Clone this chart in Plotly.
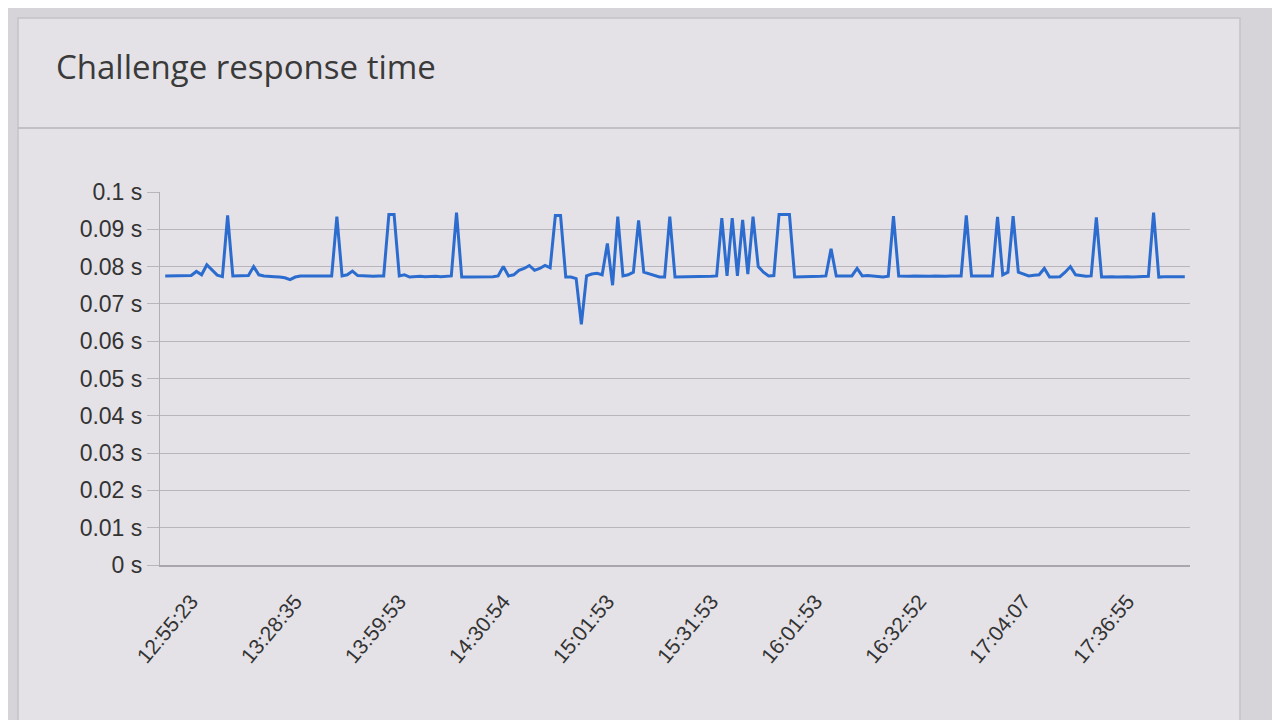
import plotly.graph_objects as go

# Response times (seconds), one value per sample
response_time = [
    0.0775, 0.0775, 0.0775, 0.0775, 0.0775, 0.0776, 0.0787, 0.0778, 0.0805, 0.0790,   # 0-9
    0.0777, 0.0773, 0.0937, 0.0775, 0.0775, 0.0775, 0.0776, 0.0800, 0.0778, 0.0775,   # 10-19
    0.0775, 0.0773, 0.0772, 0.0770, 0.0765, 0.0772, 0.0775, 0.0775, 0.0775, 0.0774,   # 20-29
    0.0775, 0.0775, 0.0775, 0.0934, 0.0775, 0.0778, 0.0788, 0.0776, 0.0775, 0.0775,   # 30-39
    0.0774, 0.0775, 0.0775, 0.0940, 0.0940, 0.0775, 0.0778, 0.0772, 0.0774, 0.0774,   # 40-49
    0.0773, 0.0774, 0.0774, 0.0773, 0.0774, 0.0775, 0.0945, 0.0772, 0.0772, 0.0772,   # 50-59
    0.0773, 0.0772, 0.0772, 0.0773, 0.0775, 0.0800, 0.0775, 0.0778, 0.0790, 0.0795,   # 60-69
    0.0803, 0.0790, 0.0795, 0.0803, 0.0797, 0.0937, 0.0937, 0.0772, 0.0772, 0.0768,   # 70-79
    0.0645, 0.0775, 0.0780, 0.0782, 0.0778, 0.0862, 0.0750, 0.0934, 0.0775, 0.0778,   # 80-89
    0.0785, 0.0924, 0.0785, 0.0780, 0.0775, 0.0772, 0.0772, 0.0934, 0.0772, 0.0772,   # 90-99
    0.0772, 0.0773, 0.0772, 0.0772, 0.0773, 0.0774, 0.0775, 0.0930, 0.0775, 0.0930,   # 100-109
    0.0775, 0.0925, 0.0780, 0.0934, 0.0800, 0.0785, 0.0775, 0.0776, 0.0940, 0.0940,   # 110-119
    0.0940, 0.0772, 0.0772, 0.0773, 0.0772, 0.0773, 0.0774, 0.0775, 0.0848, 0.0775,   # 120-129
    0.0775, 0.0774, 0.0775, 0.0795, 0.0775, 0.0776, 0.0775, 0.0773, 0.0772, 0.0774,   # 130-139
    0.0935, 0.0775, 0.0774, 0.0774, 0.0775, 0.0774, 0.0775, 0.0774, 0.0775, 0.0774,   # 140-149
    0.0774, 0.0775, 0.0775, 0.0775, 0.0937, 0.0775, 0.0775, 0.0775, 0.0774, 0.0775,   # 150-159
    0.0933, 0.0778, 0.0785, 0.0935, 0.0785, 0.0780, 0.0775, 0.0777, 0.0778, 0.0795,   # 160-169
    0.0772, 0.0772, 0.0773, 0.0785, 0.0800, 0.0778, 0.0775, 0.0774, 0.0775, 0.0932,   # 170-179
    0.0772, 0.0773, 0.0773, 0.0772, 0.0773, 0.0773, 0.0772, 0.0773, 0.0773, 0.0774,   # 180-189
    0.0945, 0.0772, 0.0773, 0.0773, 0.0772, 0.0773, 0.0773,                           # 190-196
]
sample_index = list(range(len(response_time)))

# X-axis tick labels and the samples they sit under
time_labels = ["12:55:23", "13:28:35", "13:59:53", "14:30:54", "15:01:53",
               "15:31:53", "16:01:53", "16:32:52", "17:04:07", "17:36:55"]
time_label_index = [5, 25, 45, 65, 85, 105, 125, 145, 165, 185]

# Y-axis ticks
y_tick_values = [0, 0.01, 0.02, 0.03, 0.04, 0.05, 0.06, 0.07, 0.08, 0.09, 0.1]
y_tick_labels = ["0 s", "0.01 s", "0.02 s", "0.03 s", "0.04 s", "0.05 s",
                 "0.06 s", "0.07 s", "0.08 s", "0.09 s", "0.1 s"]

fig = go.Figure()
fig.add_trace(go.Scatter(
    x=sample_index, y=response_time, mode="lines",
    line=dict(color="#2c6ccf", width=3), hoverinfo="y",
))

OFF = 8  # page body margin
W, H = 1280 - OFF, 720 - OFF
L, R, T, B = 160 - OFF, W - (1190 - OFF), 192 - OFF, H - (565 - OFF)
pw = W - L - R
ph = H - T - B

def px_x(p):
    return (p - OFF - L) / pw

def px_y(p):
    return (H - B - (p - OFF)) / ph

fig.update_layout(
    width=W, height=H,
    margin=dict(l=L, r=R, t=T, b=B),
    paper_bgcolor="#d6d4d9",
    plot_bgcolor="#e4e2e7",
    showlegend=False,
    font=dict(family="Liberation Sans, Arial, sans-serif", color="#333333"),
    title=dict(text="Challenge response time", xref="container", yref="container",
               x=(56 - OFF) / W, y=1 - (67 - OFF) / H, xanchor="left", yanchor="middle",
               font=dict(size=33, color="#3a3a3a", family="Open Sans, DejaVu Sans, sans-serif")),
    shapes=[
        dict(type="rect", xref="paper", yref="paper", layer="below",
             x0=px_x(18), x1=px_x(1240), y0=px_y(735), y1=px_y(18),
             fillcolor="#e4e2e7", line=dict(color="#c4c2c8", width=1.5)),
        dict(type="line", xref="paper", yref="paper",
             x0=px_x(18), x1=px_x(1240), y0=px_y(128), y1=px_y(128),
             line=dict(color="#c2c0c6", width=2)),
    ],
)

fig.update_xaxes(
    range=[-1, 197],
    tickvals=time_label_index, ticktext=time_labels, tickangle=-50,
    tickfont=dict(size=21, color="#333333"),
    ticklabelstandoff=14,
    showgrid=False, zeroline=False,
    showline=True, linecolor="#a9a7ad", linewidth=1.5,
    ticks="",
)
fig.update_yaxes(
    range=[0, 0.1],
    tickvals=y_tick_values, ticktext=y_tick_labels,
    tickfont=dict(size=23, color="#333333"),
    showgrid=True, gridcolor="#b8b6bc", gridwidth=1.2,
    zeroline=False,
    showline=True, linecolor="#b0aeb4", linewidth=1.2,
    ticks="outside", ticklen=12, tickcolor="#b8b6bc",
)

fig.write_html("out.html")
